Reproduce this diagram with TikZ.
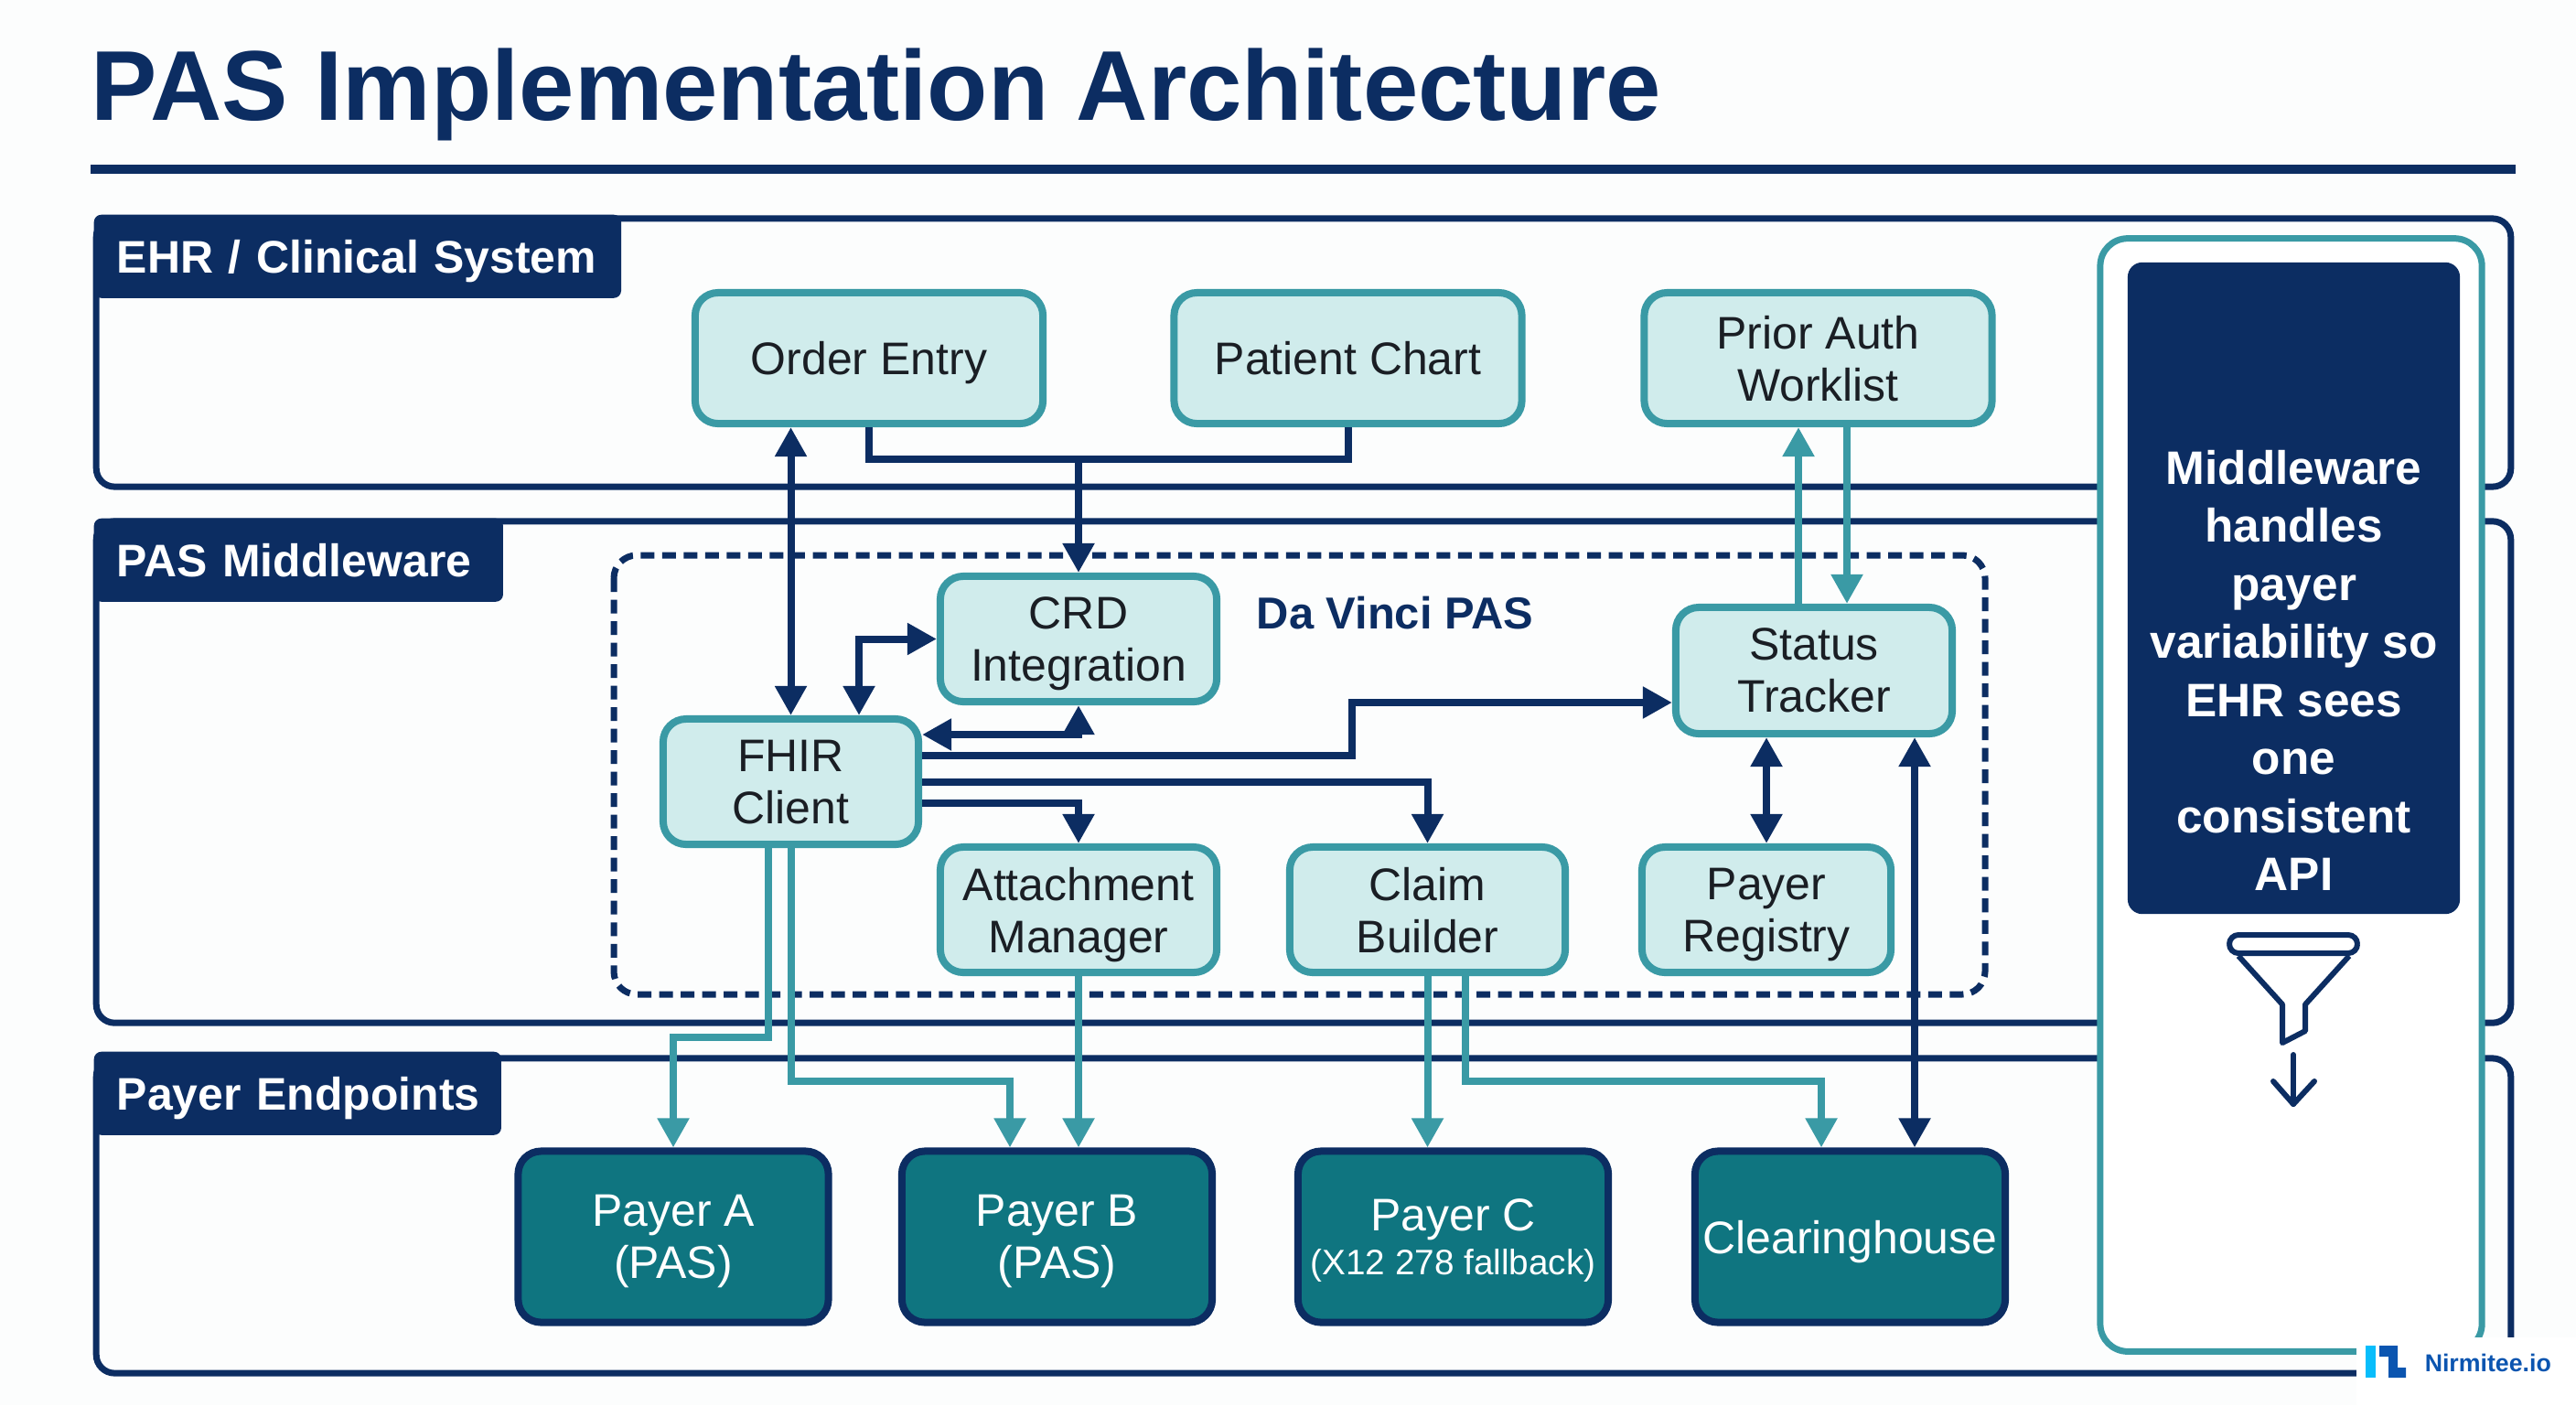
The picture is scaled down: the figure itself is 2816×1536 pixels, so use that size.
\documentclass[tikz,border=0pt]{standalone}
\usepackage{fontspec}
\setmainfont{Liberation Sans}
\usepackage{tikz}
\usepackage{xcolor}
\usetikzlibrary{arrows.meta,calc}
\definecolor{navy}{HTML}{0C2D62}
\definecolor{tealline}{HTML}{3A9AA5}
\definecolor{tealfill}{HTML}{D0ECEC}
\definecolor{tealdark}{HTML}{0F7580}
\definecolor{inkblack}{HTML}{1A1E24}
\definecolor{logoblue}{HTML}{0B55B0}
\definecolor{logocyan}{HTML}{08BDFB}
\definecolor{paper}{HTML}{FCFDFD}
\tikzset{
  panel/.style={draw=navy,line width=0.07cm,rounded corners=0.2cm,fill=paper},
  panellabel/.style={fill=navy,text=white,rounded corners=0.08cm,anchor=north west,inner xsep=0.25cm,inner ysep=0pt,minimum height=0.91cm,text depth=0pt,font=\bfseries\fontsize{14.2}{16}\selectfont},
  lightbox/.style={draw=tealline,fill=tealfill,text=inkblack,line width=0.08cm,rounded corners=0.25cm,align=center,inner sep=0pt,text depth=0pt,font=\fontsize{14.2}{16.2}\selectfont},
  payerbox/.style={draw=navy,fill=tealdark,text=white,line width=0.08cm,rounded corners=0.25cm,align=center,inner sep=0pt,minimum width=3.39cm,minimum height=1.87cm,text depth=0pt,font=\fontsize{14.2}{16.2}\selectfont},
  navyline/.style={draw=navy,line width=0.08cm},
  tealconn/.style={draw=tealline,line width=0.08cm}
}
\begin{document}
\begin{tikzpicture}[x=0.01cm,y=-0.01cm,>={Triangle[width=0.33cm,length=0.32cm]}]
            \useasboundingbox (0,0) rectangle (2816,1536);
            \fill[paper] (0,0) rectangle (2816,1536);
            \node[text=navy,anchor=base west,inner sep=0pt,font=\bfseries\fontsize{30.85}{34}\selectfont] (title) at (99,131) {PAS Implementation Architecture};
            \draw[navy,line width=0.1cm] (99,185) to (2750,185);
            \node[panel,minimum width=26.38cm,minimum height=2.93cm] (ehr) at (1425,385.5) {};
            \node[panel,minimum width=26.38cm,minimum height=5.48cm] (middle) at (1425,844) {};
            \node[panel,minimum width=26.38cm,minimum height=3.44cm] (endpoints) at (1425,1329) {};
            \node[panellabel,text width=5.26cm] (ehrlabel) at (102,234) {\mbox{EHR / Clinical System}};
            \node[panellabel,text width=3.97cm] (middlelabel) at (102,566) {\mbox{PAS Middleware}};
            \node[panellabel,text width=3.95cm] (endpointslabel) at (102,1149) {\mbox{Payer Endpoints}};
            \node[draw=tealline,fill=white,line width=0.07cm,rounded corners=0.3cm,minimum width=4.17cm,minimum height=12.16cm] (side) at (2504.5,869) {};
            \node[fill=navy,rounded corners=0.16cm,minimum width=3.63cm,minimum height=7.12cm] (notebox) at (2507.5,643) {};
            \node[text=white,align=center,inner sep=0pt,font=\bfseries\fontsize{14.6}{18.05}\selectfont] (note) at (2507.5,733) {Middleware\\handles\\payer\\variability so\\EHR sees\\one\\consistent\\API};
            \draw[navy,line width=0.06cm,rounded corners=0.1cm] (2437,1022) rectangle (2577,1042);
            \draw[navy,line width=0.06cm,line join=round] (2447,1045) to (2495,1098) to (2495,1140) to (2520,1127) to (2520,1098) to (2568,1045);
            \draw[navy,line width=0.06cm,line cap=round] (2507,1153) to (2507,1207);
            \draw[navy,line width=0.06cm,line cap=round,line join=round] (2485,1182) to (2507,1207) to (2530,1182);
            \draw[navy,line width=0.07cm,dash pattern=on 0.15cm off 0.085cm,rounded corners=0.25cm] (671,607) rectangle (2170,1087);
            \node[text=navy,anchor=west,inner sep=0pt,font=\bfseries\fontsize{13.9}{16}\selectfont] (davinci) at (1373,670) {Da Vinci PAS};
            \node[lightbox,minimum width=3.8cm,minimum height=1.43cm] (order) at (950,391.5) {Order Entry};
            \node[lightbox,minimum width=3.8cm,minimum height=1.43cm] (chart) at (1473.5,391.5) {Patient Chart};
            \node[lightbox,minimum width=3.8cm,minimum height=1.43cm] (worklist) at (1987.5,391.5) {Prior Auth\\Worklist};
            \node[lightbox,minimum width=3.02cm,minimum height=1.37cm] (crd) at (1179,698.5) {CRD\\Integration};
            \node[lightbox,minimum width=2.79cm,minimum height=1.37cm] (fhir) at (864.5,854.5) {FHIR\\Client};
            \node[lightbox,minimum width=3.02cm,minimum height=1.37cm] (attach) at (1179,994.5) {Attachment\\Manager};
            \node[lightbox,minimum width=3.02cm,minimum height=1.38cm] (status) at (1983,733) {Status\\Tracker};
            \node[lightbox,minimum width=3.01cm,minimum height=1.37cm] (claim) at (1560.5,994.5) {Claim\\Builder};
            \node[lightbox,minimum width=2.72cm,minimum height=1.37cm] (registry) at (1931,994.5) {Payer\\Registry};
            \node[payerbox] (payera) at (736,1352) {Payer A\\(PAS)};
            \node[payerbox] (payerb) at (1155.5,1352) {Payer B\\(PAS)};
            \node[payerbox] (payerc) at (1588.5,1352) {Payer C\\[-2.5pt]{\fontsize{11}{13}\selectfont (X12 278 fallback)}};
            \node[payerbox] (clearing) at (2022.5,1352) {Clearinghouse};
            \coordinate (merge) at ($(crd.north)+(0,-124)$);
            \draw[navyline] (order.south) |- (merge) -| (chart.south);
            \draw[navyline,->] (merge) to (crd.north);
            \draw[navyline,<->] (order.south -| fhir.north) to (fhir.north);
            \draw[navyline,<->] ($(fhir.north)+(74.5,0)$) |- (crd.west);
            \draw[navyline,<->] ($(fhir.east)+(0,-51.5)$) -| (crd.south);
            \draw[navyline,->] ($(fhir.east)+(0,-28.5)$) -- ++(470,0) |- ($(status.west)+(0,35)$);
            \draw[navyline,->] (fhir.east) -| (claim.north);
            \draw[navyline,->] ($(fhir.east)+(0,23.5)$) -| (attach.north);
            \draw[navyline,<->] (registry.north) to (registry.north |- status.south);
            \draw[navyline,<->] ($(clearing.north)+(70.5,0)$) to ($(status.south)+(110,0)$);
            \draw[tealconn,->] ($(status.north)+(-17,0)$) to ($(worklist.south)+(-21.5,0)$);
            \draw[tealconn,->] ($(worklist.south)+(31.5,0)$) to ($(status.north)+(36,0)$);
            \draw[tealconn,->] ($(fhir.south)+(-24.5,0)$) |- ($(payera.north)+(0,-120)$) to (payera.north);
            \draw[tealconn,->] (fhir.south) |- ($(payerb.north)+(-51.5,-72)$) to ($(payerb.north)+(-51.5,0)$);
            \draw[tealconn,->] (attach.south) to (attach.south |- payerb.north);
            \draw[tealconn,->] (claim.south) to (claim.south |- payerc.north);
            \draw[tealconn,->] ($(claim.south)+(41.5,0)$) |- ($(clearing.north)+(-31.5,-72)$) to ($(clearing.north)+(-31.5,0)$);
            \fill[white] (2576,1462) rectangle (2816,1536);
            \fill[logocyan] (2586,1471) rectangle (2597,1506);
            \fill[logoblue] (2601,1471) -- (2621,1471) -- (2621,1495) -- (2630,1495) -- (2630,1506) -- (2611,1506) -- (2611,1483) -- (2601,1483) -- cycle;
            \node[text=logoblue,anchor=base west,inner sep=0pt,font=\bfseries\fontsize{7.6}{9}\selectfont] (logo) at (2650,1499) {Nirmitee.io};
        \end{tikzpicture}
\end{document}
